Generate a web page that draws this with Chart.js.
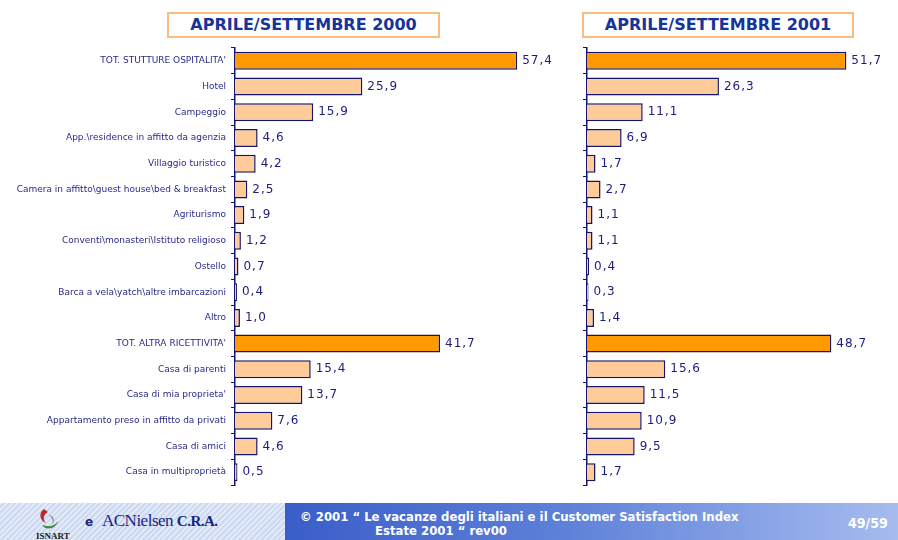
<!DOCTYPE html>
<html>
<head>
<meta charset="utf-8">
<script src="https://cdn.jsdelivr.net/npm/chart.js@4.4.0/dist/chart.umd.min.js"></script>
<style>
  body { margin: 0; width: 898px; height: 540px; background: #fff; position: relative; overflow: hidden; font-family: "DejaVu Sans", Verdana, sans-serif; }
  .title { position: absolute; top: 12px; height: 22px; border: 2px solid #f9bd80; color: #16349a; font-weight: bold; font-size: 16px; line-height: 22px; text-align: center; box-sizing: content-box; }
  #wrapL { position: absolute; left: 0; top: 40px; width: 560px; height: 460px; }
  #wrapR { position: absolute; left: 560px; top: 40px; width: 338px; height: 460px; }
  #footL { position: absolute; left: 0; top: 503px; width: 285px; height: 37px;
    background: repeating-linear-gradient(135deg, #e2eaf8 0 2px, #cbdaf2 2px 4px); }
  #footR { position: absolute; left: 285px; top: 503px; width: 613px; height: 37px;
    background: linear-gradient(90deg, #3a5ec8 0%, #5d80d8 45%, #a6bcef 100%); color: #fff; font-weight: bold; font-family: "DejaVu Sans Condensed", "DejaVu Sans", sans-serif; }
  #footR .t1 { position: absolute; left: 15px; top: 6px; font-size: 13px; white-space: nowrap; }
  #footR .t2 { position: absolute; left: 90px; top: 20px; font-size: 13px; white-space: nowrap; }
  #footR .pg { position: absolute; left: 563px; top: 12px; font-size: 14px; }
</style>
</head>
<body>
<div class="title" style="left:167px; width:269px;">APRILE/SETTEMBRE 2000</div>
<div class="title" style="left:582px; width:268px;">APRILE/SETTEMBRE 2001</div>
<div id="wrapL"><canvas id="chartL" width="560" height="460"></canvas></div>
<div id="wrapR"><canvas id="chartR" width="338" height="460"></canvas></div>
<div id="footL">
  <svg style="position:absolute; left:36px; top:4px;" width="40" height="33">
    <path d="M8 2 C2 6 4 14 10 16 C6 12 8 7 12 5 Z" fill="#c0282d"/>
    <path d="M6 18 C10 24 20 22 22 14 C18 20 12 20 6 18 Z" fill="#3c8a3c"/>
    <path d="M12 8 C16 10 18 14 16 18 C20 14 18 8 12 8 Z" fill="#9a9a9a"/>
    <text x="0" y="32" font-family="Liberation Serif, serif" font-weight="bold" font-size="9" fill="#222">ISNART</text>
  </svg>
  <div style="position:absolute; left:85px; top:12px; font-weight:bold; font-size:12px; color:#1a237e;">e</div>
  <div style="position:absolute; left:102px; top:8px; font-family:'Liberation Serif', serif; font-size:17px; color:#1a237e; letter-spacing:-0.5px;">ACNielsen <b style="font-size:15px;">C.R.A.</b></div>
</div>
<div id="footR">
  <div class="t1">© 2001 “ Le vacanze degli italiani e il Customer Satisfaction Index</div>
  <div class="t2">Estate 2001 “ rev00</div>
  <div class="pg">49/59</div>
</div>
<script>
const categories = [
  "TOT. STUTTURE OSPITALITA'",
  "Hotel",
  "Campeggio",
  "App.\\residence in affitto da agenzia",
  "Villaggio turistico",
  "Camera in affitto\\guest house\\bed & breakfast",
  "Agriturismo",
  "Conventi\\monasteri\\Istituto religioso",
  "Ostello",
  "Barca a vela\\yatch\\altre imbarcazioni",
  "Altro",
  "TOT. ALTRA RICETTIVITA'",
  "Casa di parenti",
  "Casa di mia proprieta'",
  "Appartamento preso in affitto da privati",
  "Casa di amici",
  "Casa in multiproprietà"
];
const values2000 = [57.4, 25.9, 15.9, 4.6, 4.2, 2.5, 1.9, 1.2, 0.7, 0.4, 1.0, 41.7, 15.4, 13.7, 7.6, 4.6, 0.5];
const values2001 = [51.7, 26.3, 11.1, 6.9, 1.7, 2.7, 1.1, 1.1, 0.4, 0.3, 1.4, 48.7, 15.6, 11.5, 10.9, 9.5, 1.7];
const totalIdx = [0, 11];

const navy = '#14146e';
const barColors = categories.map((_, i) => totalIdx.includes(i) ? '#ff9900' : '#ffcc99');

// draws the value after each bar, with comma as decimal separator
const valueLabels = {
  id: 'valueLabels',
  afterDatasetsDraw(chart) {
    const ctx = chart.ctx;
    const meta = chart.getDatasetMeta(0);
    const data = chart.data.datasets[0].data;
    ctx.save();
    ctx.font = '12px "DejaVu Sans", Verdana, sans-serif';
    ctx.fillStyle = '#1b1b80';
    ctx.textBaseline = 'middle';
    ctx.letterSpacing = '1px';
    meta.data.forEach((bar, i) => {
      ctx.fillText(data[i].toFixed(1).replace('.', ','), bar.x + 5, bar.y);
    });
    ctx.restore();
  }
};

function makeChart(id, values, axisWidth, padRight, showLabels) {
  return new Chart(document.getElementById(id), {
    type: 'bar',
    data: {
      labels: categories,
      datasets: [{
        data: values,
        backgroundColor: barColors,
        borderColor: navy,
        borderWidth: 1.5,
        borderSkipped: 'left',
        barPercentage: 0.7,
        categoryPercentage: 1
      }]
    },
    options: {
      indexAxis: 'y',
      responsive: false,
      animation: false,
      layout: { padding: { top: 8, bottom: 15, left: 0, right: padRight } },
      scales: {
        x: { display: false, min: 0, max: 60 },
        y: {
          afterFit: s => { s.width = axisWidth; s.paddingTop = 0; s.paddingBottom = 0; },
          border: { display: true, color: navy, width: 1.5 },
          grid: { display: true, drawOnChartArea: false, drawTicks: true, tickLength: 4, color: navy, offset: true },
          ticks: {
            autoSkip: false,
            padding: 5,
            color: '#2a2a8a',
            font: { size: 9, family: '"DejaVu Sans", Verdana, sans-serif' },
            callback: function (v, i) { return showLabels ? categories[i] : ''; }
          }
        }
      },
      plugins: {
        legend: { display: false },
        tooltip: { enabled: false }
      }
    },
    plugins: [valueLabels]
  });
}

makeChart('chartL', values2000, 235, 30, true);
makeChart('chartR', values2001, 27, 10, false);
</script>
</body>
</html>
